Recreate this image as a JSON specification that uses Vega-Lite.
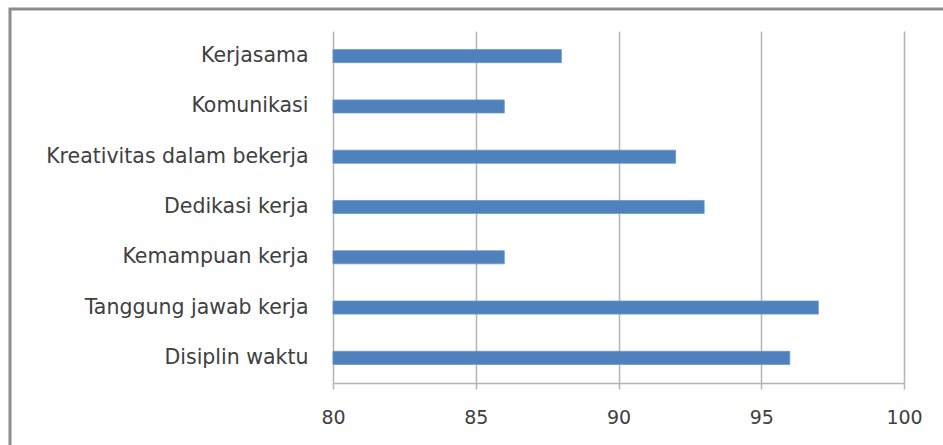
{
  "$schema": "https://vega.github.io/schema/vega-lite/v6.json",
  "autosize": "none",
  "padding": {"left": 10, "top": 9, "right": 0, "bottom": 0},
  "width": 945,
  "height": 445,
  "background": "white",
  "config": {
    "view": {"stroke": "#8c8c8c", "strokeWidth": 3},
    "font": "DejaVu Sans"
  },
  "data": {
    "values": [
      {"aspek": "Kerjasama", "nilai": 88},
      {"aspek": "Komunikasi", "nilai": 86},
      {"aspek": "Kreativitas dalam bekerja", "nilai": 92},
      {"aspek": "Dedikasi kerja", "nilai": 93},
      {"aspek": "Kemampuan kerja", "nilai": 86},
      {"aspek": "Tanggung jawab kerja", "nilai": 97},
      {"aspek": "Disiplin waktu", "nilai": 96}
    ]
  },
  "encoding": {
    "y": {
      "field": "aspek",
      "type": "nominal",
      "sort": null,
      "scale": {"range": [22, 374], "paddingInner": 0.74, "paddingOuter": 0.37},
      "axis": {
        "title": null,
        "orient": "left",
        "offset": -323,
        "ticks": false,
        "grid": false,
        "domainColor": "#b4b4b4",
        "domainWidth": 1.5,
        "labelPadding": 25,
        "labelFontSize": 20.5,
        "labelColor": "#404040",
        "labelFont": "DejaVu Sans",
        "labelLimit": 400
      }
    }
  },
  "layer": [
    {
      "mark": {"type": "bar", "opacity": 0},
      "encoding": {
        "x": {
          "field": "nilai",
          "type": "quantitative",
          "scale": {"domain": [80, 100], "range": [323, 894], "zero": false, "nice": false},
          "axis": {
            "title": null,
            "orient": "top",
            "offset": 0,
            "values": [85, 90, 95, 100],
            "grid": true,
            "gridColor": "#b4b4b4",
            "gridWidth": 1.5,
            "domain": false,
            "ticks": false,
            "labels": false
          }
        },
        "x2": {"datum": 80}
      }
    },
    {
      "mark": {"type": "bar", "color": "#4F81BD", "stroke": "#6b95c8", "strokeWidth": 0.8},
      "encoding": {
        "x": {
          "field": "nilai",
          "type": "quantitative",
          "axis": {
            "title": null,
            "orient": "bottom",
            "offset": -71,
            "values": [80, 85, 90, 95, 100],
            "grid": false,
            "domainColor": "#b4b4b4",
            "domainWidth": 1.5,
            "tickColor": "#b4b4b4",
            "tickWidth": 1.5,
            "tickSize": 6,
            "labelFlush": false,
            "labelPadding": 19,
            "labelFontSize": 19,
            "labelColor": "#404040",
            "labelFont": "DejaVu Sans"
          }
        },
        "x2": {"datum": 80}
      }
    }
  ],
  "resolve": {"axis": {"x": "independent"}}
}
